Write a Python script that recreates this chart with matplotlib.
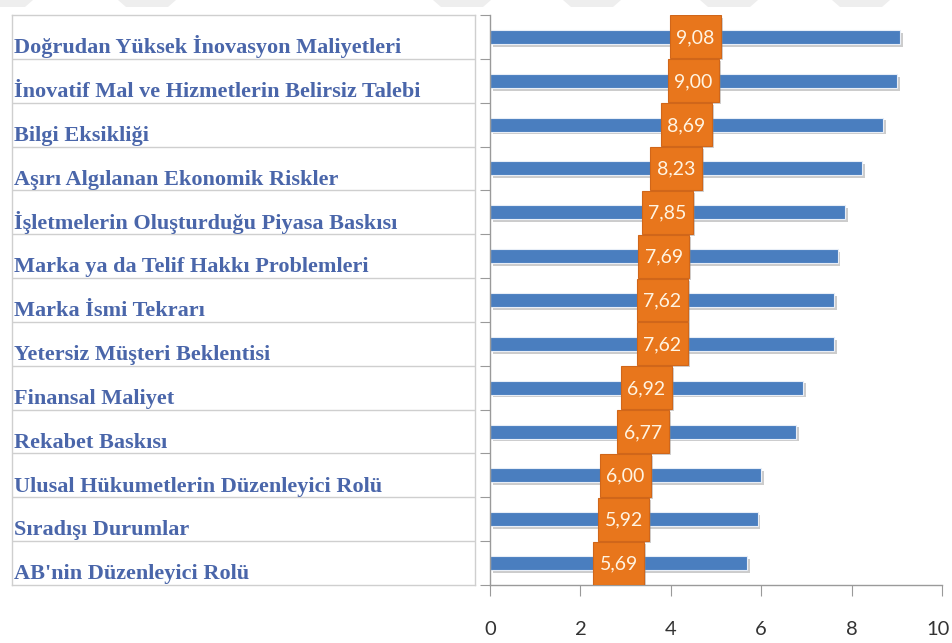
import matplotlib
matplotlib.use("Agg")
import matplotlib.pyplot as plt
from matplotlib.patches import Polygon, Rectangle
from matplotlib.transforms import ScaledTranslation
import matplotlib.patheffects as pe

categories = [
    "Doğrudan Yüksek İnovasyon Maliyetleri",
    "İnovatif Mal ve Hizmetlerin Belirsiz Talebi",
    "Bilgi Eksikliği",
    "Aşırı Algılanan Ekonomik Riskler",
    "İşletmelerin Oluşturduğu Piyasa Baskısı",
    "Marka ya da Telif Hakkı Problemleri",
    "Marka İsmi Tekrarı",
    "Yetersiz Müşteri Beklentisi",
    "Finansal Maliyet",
    "Rekabet Baskısı",
    "Ulusal Hükumetlerin Düzenleyici Rolü",
    "Sıradışı Durumlar",
    "AB'nin Düzenleyici Rolü",
]
values = [9.08, 9.00, 8.69, 8.23, 7.85, 7.69, 7.62, 7.62, 6.92, 6.77, 6.00, 5.92, 5.69]
xticks = [0, 2, 4, 6, 8, 10]

W, H = 952, 643
fig = plt.figure(figsize=(W / 100, H / 100), dpi=100)
fig.patch.set_facecolor("white")

# decorative chevrons at top
for x0 in [-25, 118, 433, 563, 700, 832]:
    poly = Polygon([[x0 / W, 1.0], [(x0 + 58) / W, 1.0], [(x0 + 50) / W, 1 - 7 / H], [(x0 + 8) / W, 1 - 7 / H]],
                   closed=True, transform=fig.transFigure, facecolor="#EEEEEE", edgecolor="none")
    fig.patches.append(poly)

n = len(categories)
left, right, top, bottom = 490, 942, 15, 585
ax = fig.add_axes([left / W, (H - bottom) / H, (right - left) / W, (bottom - top) / H])
ypos = list(range(n))

shadow = [pe.SimplePatchShadow(offset=(2, -2), shadow_rgbFace="#9A9A9A", alpha=0.5), pe.Normal()]
bars = ax.barh(ypos, values, height=0.32, color="#4A7EBF", edgecolor="#E8EEF7", linewidth=0.8, zorder=2)
for b in bars:
    b.set_path_effects(shadow)

box_w = 1.13
for i, v in enumerate(values):
    r = Rectangle((v / 2 - box_w / 2, i - 0.49), box_w, 0.98, facecolor="#E8761C", edgecolor="#D0661A",
                  linewidth=0.8, zorder=3)
    r.set_path_effects([pe.SimplePatchShadow(offset=(1.5, -1.5), shadow_rgbFace="#8A8A8A", alpha=0.4), pe.Normal()])
    ax.add_patch(r)
    ax.text(v / 2, i + 0.02, f"{v:.2f}".replace(".", ","), ha="center", va="center", color="#FFF4E2",
            fontsize=14, family="Lato", zorder=4)

ax.set_xlim(0, 10)
ax.set_ylim(n - 0.5, -0.5)
ax.set_xticks(xticks)
ax.set_xticklabels([str(t) for t in xticks], fontsize=14.5, color="#333333", family="Lato")
ax.tick_params(axis="x", direction="out", length=8, color="#9A9A9A", pad=18)
lab = ax.get_xticklabels()[-1]
lab.set_transform(lab.get_transform() + ScaledTranslation(-4 / 100, 0, fig.dpi_scale_trans))
ax.set_yticks([i - 0.5 for i in range(n + 1)])
ax.set_yticklabels([])
ax.tick_params(axis="y", direction="out", length=7, color="#9A9A9A")
for s in ["top", "right"]:
    ax.spines[s].set_visible(False)
for s in ["left", "bottom"]:
    ax.spines[s].set_color("#9A9A9A")
    ax.spines[s].set_linewidth(1.0)
ax.set_facecolor("none")

# label table
tleft, tright = 12, 475
axt = fig.add_axes([tleft / W, (H - bottom) / H, (tright - tleft) / W, (bottom - top) / H])
axt.set_xlim(0, 1)
axt.set_ylim(n - 0.5, -0.5)
axt.set_xticks([])
axt.set_yticks([])
for s in axt.spines.values():
    s.set_color("#CFCFCF")
    s.set_linewidth(1.0)
for i in range(1, n):
    axt.axhline(i - 0.5, color="#CFCFCF", linewidth=1.0)
for i, c in enumerate(categories):
    axt.text(2 / (tright - tleft), i + 0.37, c, ha="left", va="baseline", fontsize=16,
             family="Liberation Serif", fontweight="bold", color="#4A66AA")

fig.savefig("out.png", dpi=100, facecolor="white")
